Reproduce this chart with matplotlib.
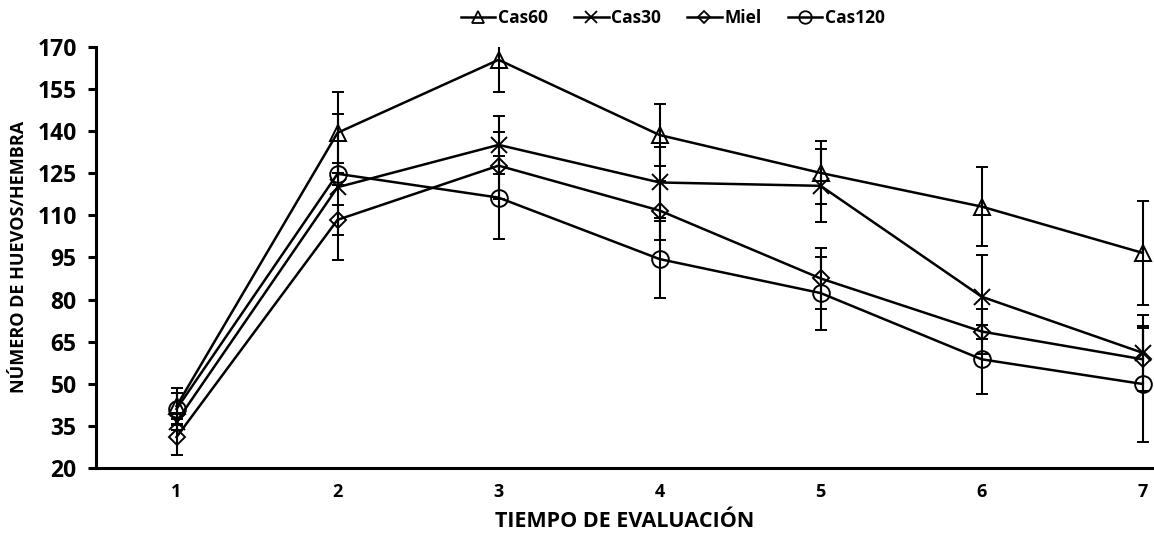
import numpy as np
import matplotlib
matplotlib.use("Agg")
import matplotlib.pyplot as plt
from matplotlib.lines import Line2D

# Evaluation times and series (mean eggs per female, with error)
tiempo = [1, 2, 3, 4, 5, 6, 7]

cas60 = [42.0, 139.4, 165.4, 138.6, 125.1, 113.1, 96.6]
cas60_err = [6.5, 14.5, 11.3, 11.0, 11.2, 14.0, 18.4]

cas30 = [36.5, 120.0, 135.1, 121.7, 120.5, 81.0, 61.0]
cas30_err = [3.0, 26.0, 10.3, 12.5, 13.0, 15.0, 13.5]

miel = [31.0, 108.4, 127.7, 111.7, 87.5, 68.6, 58.7]
miel_err = [6.4, 5.4, 12.0, 10.5, 10.8, 8.0, 11.3]

cas120 = [41.0, 124.8, 116.3, 94.4, 82.3, 58.7, 49.9]
cas120_err = [5.7, 4.0, 14.8, 13.7, 13.0, 12.3, 20.5]

series = [
    ("Cas60", cas60, cas60_err, "^", 12),
    ("Cas30", cas30, cas30_err, "x", 11),
    ("Miel", miel, miel_err, "D", 8),
    ("Cas120", cas120, cas120_err, "o", 12),
]

plt.rcParams["font.family"] = ["Open Sans", "DejaVu Sans"]
plt.rcParams["font.weight"] = "bold"

fig = plt.figure(figsize=(11.54, 5.36), dpi=100)
ax = fig.add_axes([0.0832, 0.127, 0.9168, 0.7855])

handles = []
for name, vals, err, mk, ms in series:
    ax.errorbar(tiempo, vals, yerr=err, color="black", linewidth=1.8,
                marker=mk, markersize=ms, markerfacecolor="none",
                markeredgecolor="black", markeredgewidth=1.4,
                ecolor="black", elinewidth=1.5, capsize=4.5, capthick=1.5)
    handles.append(Line2D([], [], color="black", linewidth=1.8, marker=mk,
                          markersize=ms * 0.75, markerfacecolor="none",
                          markeredgecolor="black", markeredgewidth=1.3,
                          label=name))

ax.set_xlim(0.5, 7.07)
ax.set_ylim(20, 170)
ax.set_yticks(np.arange(20, 171, 15))
ax.set_xticks(tiempo)

for side in ["top", "right"]:
    ax.spines[side].set_visible(False)
for side in ["left", "bottom"]:
    ax.spines[side].set_linewidth(2.2)

ax.tick_params(axis="y", direction="out", length=6, width=2.2,
               labelsize=16.5, pad=8)
ax.tick_params(axis="x", length=0, labelsize=13, pad=11)
for lab in ax.get_xticklabels() + ax.get_yticklabels():
    lab.set_fontweight("bold")

ax.set_xlabel("TIEMPO DE EVALUACIÓN", fontsize=15.5, fontweight="bold")
ax.set_ylabel("NÚMERO DE HUEVOS/HEMBRA", fontsize=13, fontweight="bold")
ax.xaxis.set_label_coords(0.5, -0.103)
ax.yaxis.set_label_coords(-0.064, 0.5)

fig.legend(handles=handles, loc="upper center", ncol=4, frameon=False,
           bbox_to_anchor=(0.583, 1.012), handlelength=2.0,
           handletextpad=0.15, columnspacing=1.5,
           prop={"weight": "bold", "size": 12.5})

fig.savefig("out.png", dpi=100)
